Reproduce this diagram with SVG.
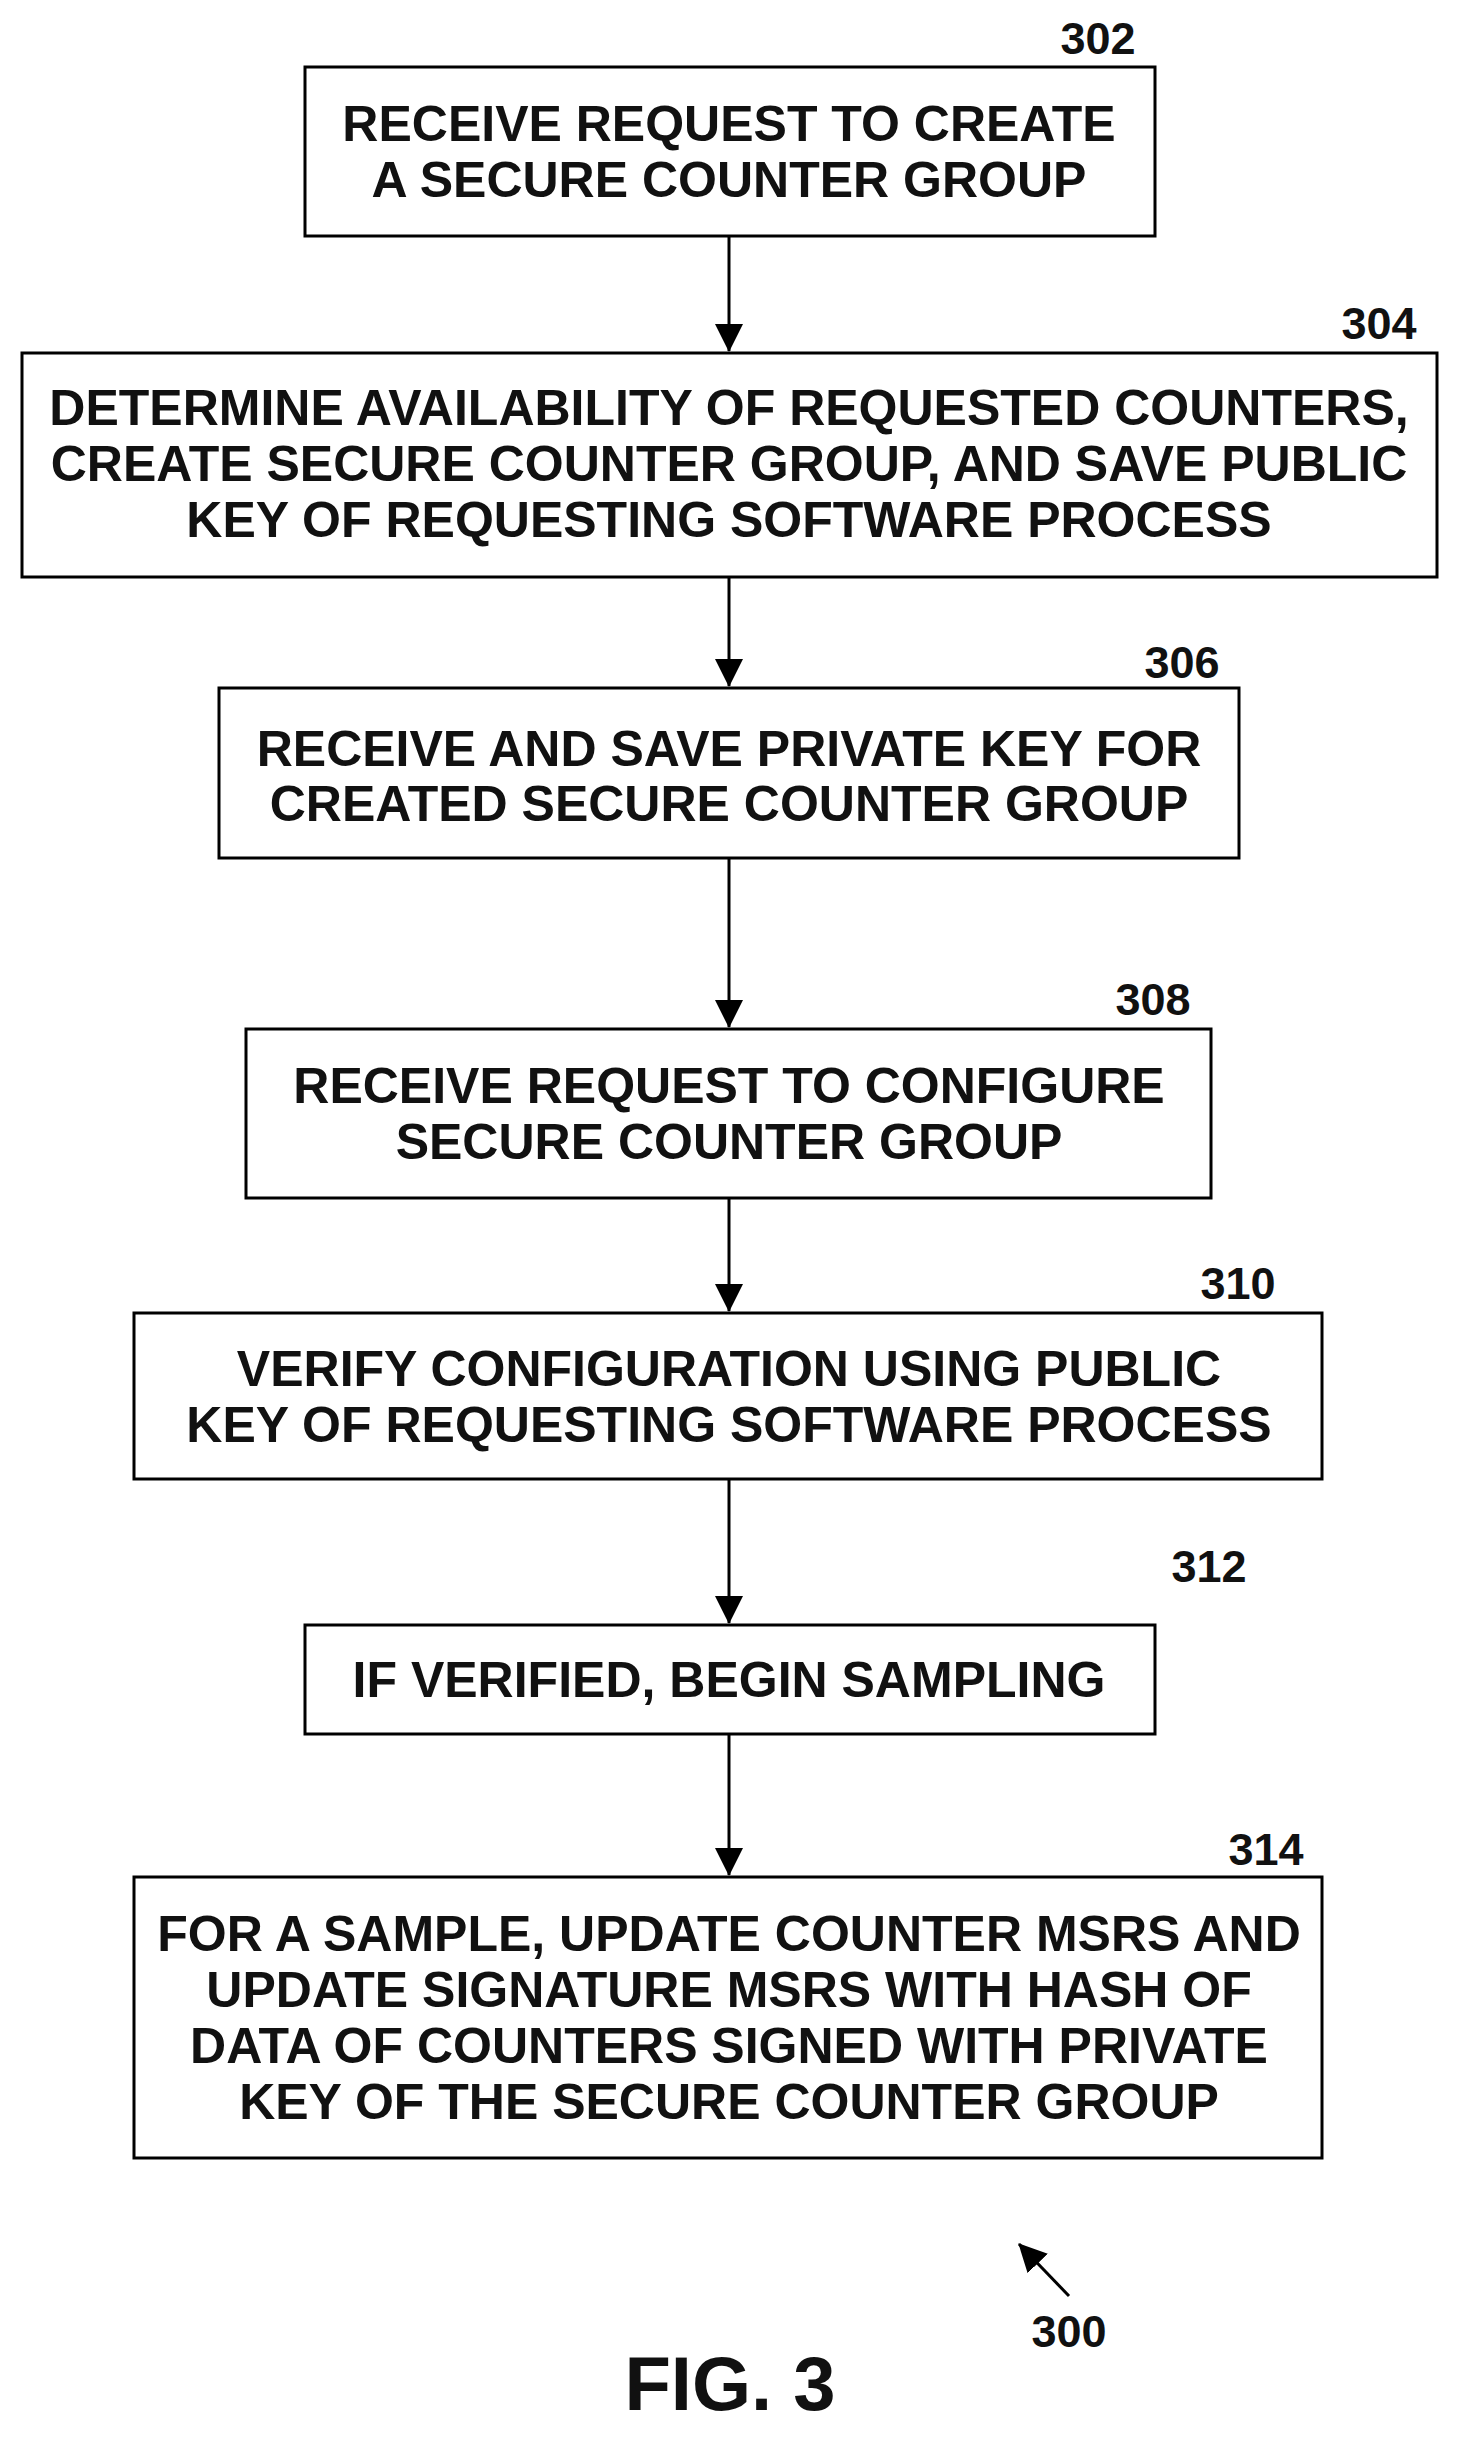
<svg xmlns="http://www.w3.org/2000/svg" width="1460" height="2438" viewBox="0 0 1460 2438">
<style>
.b{fill:#fff;stroke:#000;stroke-width:3}
.t{font-family:"Liberation Sans",Arial,sans-serif;font-size:50px;font-weight:bold;fill:#111;text-anchor:middle}
.n{font-family:"Liberation Sans",Arial,sans-serif;font-size:45px;font-weight:bold;fill:#111;text-anchor:middle}
.c{stroke:#000;stroke-width:3;fill:none}
</style>
<defs>
<marker id="h" markerWidth="28" markerHeight="28" refX="27" refY="14" orient="auto" markerUnits="userSpaceOnUse" viewBox="0 0 28 28"><path d="M0,0L28,14L0,28z"/></marker></defs>
<rect width="1460" height="2438" fill="#fff"/>
<g id="n302"><rect class="b" x="305" y="67" width="850" height="169"/><text class="t" x="729" y="141">RECEIVE REQUEST TO CREATE</text><text class="t" x="729" y="197">A SECURE COUNTER GROUP</text><text class="n" x="1098" y="54">302</text></g>
<g id="n304"><rect class="b" x="22" y="353" width="1415" height="224"/><text class="t" x="729" y="425">DETERMINE AVAILABILITY OF REQUESTED COUNTERS,</text><text class="t" x="729" y="481">CREATE SECURE COUNTER GROUP, AND SAVE PUBLIC</text><text class="t" x="729" y="537">KEY OF REQUESTING SOFTWARE PROCESS</text><text class="n" x="1379" y="339">304</text></g>
<g id="n306"><rect class="b" x="219" y="688" width="1020" height="170"/><text class="t" x="729" y="766">RECEIVE AND SAVE PRIVATE KEY FOR</text><text class="t" x="729" y="821">CREATED SECURE COUNTER GROUP</text><text class="n" x="1182" y="678">306</text></g>
<g id="n308"><rect class="b" x="246" y="1029" width="965" height="169"/><text class="t" x="729" y="1103">RECEIVE REQUEST TO CONFIGURE</text><text class="t" x="729" y="1159">SECURE COUNTER GROUP</text><text class="n" x="1153" y="1015">308</text></g>
<g id="n310"><rect class="b" x="134" y="1313" width="1188" height="166"/><text class="t" x="729" y="1386">VERIFY CONFIGURATION USING PUBLIC</text><text class="t" x="729" y="1442">KEY OF REQUESTING SOFTWARE PROCESS</text><text class="n" x="1238" y="1299">310</text></g>
<g id="n312"><rect class="b" x="305" y="1625" width="850" height="109"/><text class="t" x="729" y="1697">IF VERIFIED, BEGIN SAMPLING</text><text class="n" x="1209" y="1582">312</text></g>
<g id="n314"><rect class="b" x="134" y="1877" width="1188" height="281"/><text class="t" x="729" y="1951">FOR A SAMPLE, UPDATE COUNTER MSRS AND</text><text class="t" x="729" y="2007">UPDATE SIGNATURE MSRS WITH HASH OF</text><text class="t" x="729" y="2063">DATA OF COUNTERS SIGNED WITH PRIVATE</text><text class="t" x="729" y="2119">KEY OF THE SECURE COUNTER GROUP</text><text class="n" x="1266" y="1865">314</text></g>
<g id="connectors">
<line class="c" x1="729" y1="236" x2="729" y2="351" marker-end="url(#h)"/>
<line class="c" x1="729" y1="577" x2="729" y2="686" marker-end="url(#h)"/>
<line class="c" x1="729" y1="858" x2="729" y2="1027" marker-end="url(#h)"/>
<line class="c" x1="729" y1="1198" x2="729" y2="1311" marker-end="url(#h)"/>
<line class="c" x1="729" y1="1479" x2="729" y2="1623" marker-end="url(#h)"/>
<line class="c" x1="729" y1="1734" x2="729" y2="1875" marker-end="url(#h)"/>
<line class="c" x1="1069" y1="2296" x2="1019" y2="2244" marker-end="url(#h)"/>
</g>
<text class="n" x="1069" y="2347">300</text>
<text class="t" x="730" y="2410" style="font-size:76px">FIG. 3</text>
</svg>
